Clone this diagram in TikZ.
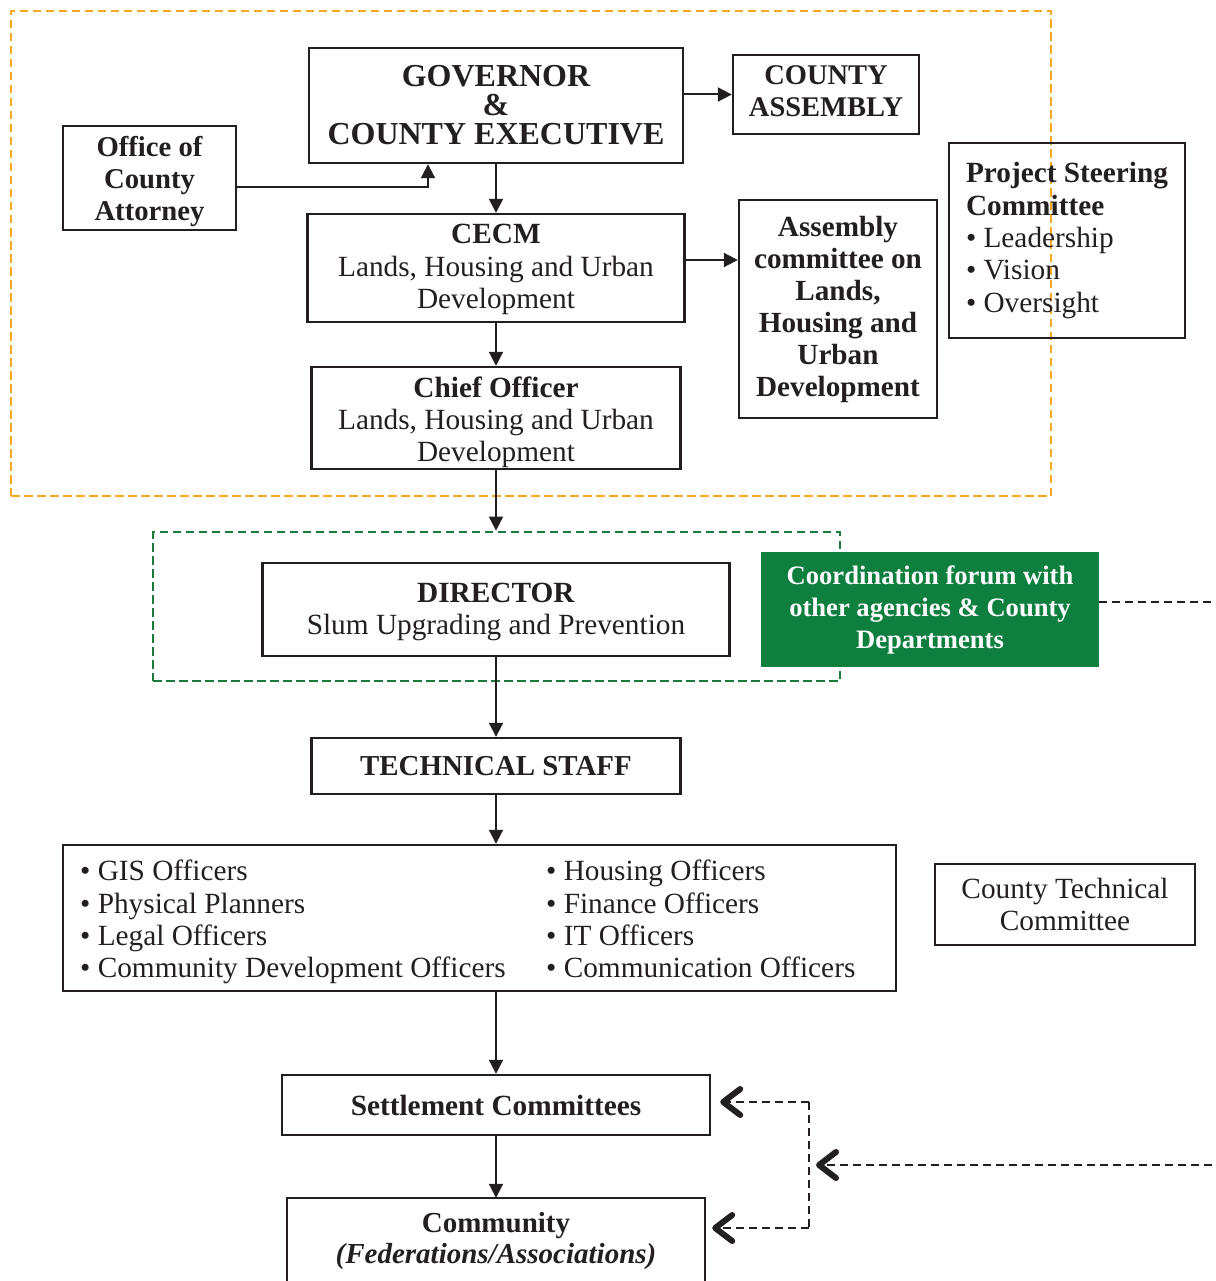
\documentclass[tikz,border=0pt]{standalone}
\usepackage{fontspec}
\setmainfont{Liberation Serif}
\usetikzlibrary{arrows.meta}
\definecolor{ink}{HTML}{231F20}
\definecolor{execorange}{HTML}{F7A823}
\definecolor{dirgreen}{HTML}{1C7A3C}
\definecolor{forumgreen}{HTML}{0E7F3F}
\begin{document}
\begin{tikzpicture}[x=1pt,y=-1pt,
  text=ink,
  font=\fontsize{29.3}{32.3}\selectfont,
  box/.style={draw=ink, line width=2.4pt, inner sep=0pt, align=center},
  boxline/.style={draw=ink, line width=2.4pt},
  group/.style={line width=2.8pt, dash pattern=on 8.5pt off 4.5pt, inner sep=0pt},
  arr/.style={draw=ink, line width=2pt, -{Triangle[length=14pt,width=14pt]}},
  link/.style={draw=ink, line width=2.8pt, dash pattern=on 8pt off 5pt},
  barb/.style={-{Straight Barb[length=17pt,width=26pt,line width=6pt,round]}}]
\useasboundingbox (0,0) rectangle (1215,1281);

% executive and director groupings
\node[group, draw=execorange, minimum width=1040pt, minimum height=485pt] (execgroup) at (531,253.5) {};
\node[group, draw=dirgreen, minimum width=687pt, minimum height=149pt] (dirgroup) at (496.5,606.5) {};

% executive level
\node[box, minimum width=374pt, minimum height=115pt, text height=79pt, text depth=0pt,
  font=\fontsize{32}{29}\selectfont\bfseries] (gov) at (496,105.5)
  {GOVERNOR\\\&\\COUNTY EXECUTIVE};
\node[box, minimum width=186pt, minimum height=79pt, text height=44pt, text depth=0pt,
  font=\fontsize{28.5}{32}\selectfont\bfseries] (assembly) at (826,94.5)
  {COUNTY\\ASSEMBLY};
\node[box, minimum width=173pt, minimum height=104pt, text height=86pt, text depth=0pt,
  font=\fontsize{28.7}{32}\selectfont\bfseries] (attorney) at (149.5,178)
  {Office of\\County\\Attorney};
\node[box, minimum width=377pt, minimum height=108pt, text height=80.6pt, text depth=0pt] (cecm) at (496,268)
  {\textbf{CECM}\\Lands, Housing and Urban\\Development};
\node[box, minimum width=369pt, minimum height=102pt, text height=87.6pt, text depth=0pt] (chief) at (496,418)
  {\textbf{Chief Officer}\\Lands, Housing and Urban\\Development};
\node[box, minimum width=198pt, minimum height=218pt, font=\fontsize{29.2}{32}\selectfont\bfseries] (committee) at (838,309)
  {Assembly\\committee on\\Lands,\\Housing and\\Urban\\Development};
\node[box, align=left, minimum width=236pt, minimum height=195pt] (steering) at (1067,240.5)
  {\textbf{Project Steering}\\\textbf{Committee}\\• Leadership\\• Vision\\• Oversight};

% director level
\node[box, minimum width=467pt, minimum height=93pt, text height=50.3pt, text depth=0pt] (director) at (496,609.5)
  {\textbf{DIRECTOR}\\Slum Upgrading and Prevention};
\node[fill=forumgreen, inner sep=0pt, align=center, text=white, minimum width=338pt, minimum height=115pt,
  font=\fontsize{26.6}{32}\selectfont\bfseries] (forum) at (930,609.5)
  {Coordination forum with\\other agencies \& County\\Departments};

% technical level
\node[box, minimum width=369pt, minimum height=56pt, font=\fontsize{28.9}{32}\selectfont\bfseries] (tech) at (496,766)
  {TECHNICAL STAFF};
\node[box, minimum width=833pt, minimum height=146pt] (officers) at (479.5,918) {};
\node[anchor=west, inner sep=0pt, align=left] (officersL) at (80,922)
  {• GIS Officers\\• Physical Planners\\• Legal Officers\\• Community Development Officers};
\node[anchor=west, inner sep=0pt, align=left] (officersR) at (546,919)
  {• Housing Officers\\• Finance Officers\\• IT Officers\\• Communication Officers};
\node[box, minimum width=260pt, minimum height=81pt] (ctc) at (1065,904.5)
  {County Technical\\Committee};

% community level
\node[box, minimum width=428pt, minimum height=60pt, font=\fontsize{29.3}{32}\selectfont\bfseries] (settle) at (496,1105)
  {Settlement Committees};
\node[inner sep=0pt, align=center, minimum width=418pt, minimum height=86pt, font=\fontsize{29}{31}\selectfont\bfseries] (comm) at (496,1241)
  {Community\\\itshape (Federations/Associations)};
\draw[boxline] ([yshift=-15pt]comm.south west) -- (comm.north west) -- (comm.north east) -- ([yshift=-15pt]comm.south east);

% reporting lines
\draw[arr] (gov.east |- assembly.west) -- (assembly.west);
\draw[arr] (gov.south) -- (cecm.north);
\draw[arr] ([yshift=-9pt]attorney.east) -| ([xshift=-68pt]gov.south);
\draw[arr] ([yshift=8pt]cecm.east) -- ([yshift=8pt]cecm.east -| committee.west);
\draw[arr] (cecm.south) -- (chief.north);
\draw[arr] (chief.south) -- (chief.south |- dirgroup.north);
\draw[arr] (director.south) -- (tech.north);
\draw[arr] (tech.south) -- (tech.south |- officers.north);
\draw[arr] (tech.south |- officers.south) -- (settle.north);
\draw[arr] (settle.south) -- (comm.north);

% coordination links
\draw[link] ([yshift=7.5pt]forum.east) -- ++(130,0);
\coordinate (ctcfeed) at (1225,1165);
\coordinate (jn) at (809,1165);
\coordinate (jt) at (809,1102);
\coordinate (jb) at (809,1228);
\draw[link, barb] (ctcfeed) -- ([xshift=7pt]jn);
\draw[link] (jt) -- (jb);
\draw[link, barb, shorten >=9pt] (jt) -- (jt -| settle.east);
\draw[link, barb, shorten >=7pt] (jb) -- (jb -| comm.east);
\end{tikzpicture}
\end{document}
